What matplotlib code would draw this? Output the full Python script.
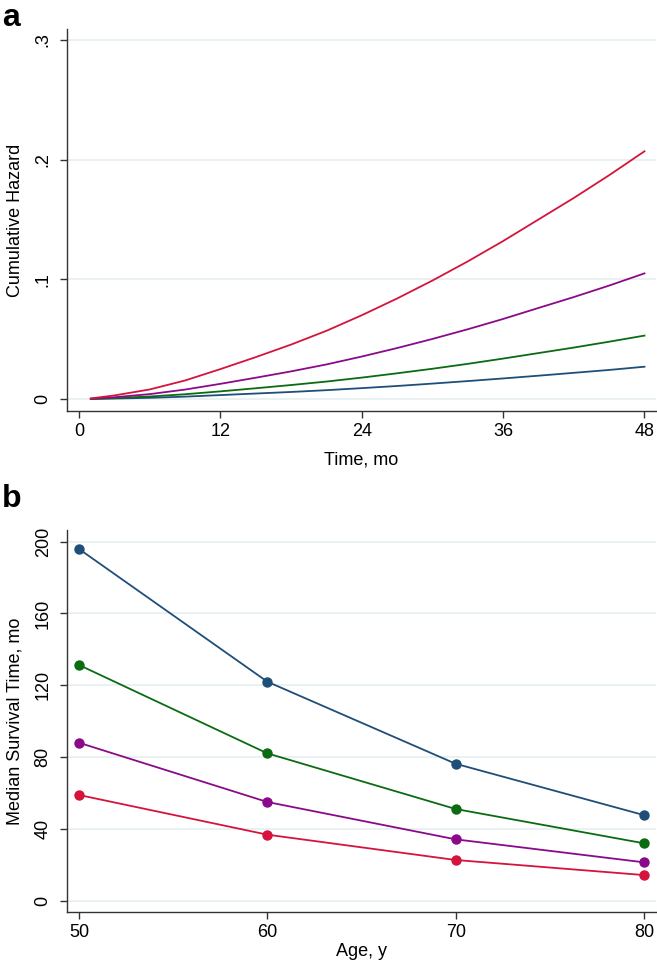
import matplotlib
matplotlib.use("Agg")
import matplotlib.pyplot as plt

plt.rcParams['font.family'] = ['Liberation Sans', 'DejaVu Sans']

# ---- Panel a data: cumulative hazard vs time (months) ----
time_mo = [1, 3, 6, 9, 12, 15, 18, 21, 24, 27, 30, 33, 36, 39, 42, 45, 48]
haz_red = [0.0005, 0.003, 0.008, 0.0155, 0.025, 0.035, 0.0455, 0.057, 0.070, 0.084,
           0.099, 0.115, 0.132, 0.150, 0.168, 0.187, 0.207]
haz_purple = [0.0003, 0.0015, 0.0041, 0.0079, 0.0127, 0.0178, 0.0231, 0.0289, 0.0355,
              0.0426, 0.0502, 0.0583, 0.0669, 0.0761, 0.0852, 0.0948, 0.105]
haz_green = [0.0001, 0.0008, 0.0021, 0.004, 0.0064, 0.009, 0.0117, 0.0146, 0.0179,
             0.0215, 0.0253, 0.0294, 0.0338, 0.0384, 0.043, 0.0479, 0.053]
haz_blue = [0.0001, 0.0004, 0.001, 0.002, 0.0033, 0.0046, 0.0059, 0.0074, 0.0091,
            0.0109, 0.0129, 0.015, 0.0172, 0.0195, 0.0219, 0.0243, 0.027]
a_xticks = [0, 12, 24, 36, 48]
a_yticks = [0, 0.1, 0.2, 0.3]
a_yticklabels = ['0', '.1', '.2', '.3']

# ---- Panel b data: median survival time vs age ----
age_y = [50, 60, 70, 80]
med_blue = [195.9, 122.0, 76.3, 47.7]
med_green = [131.3, 82.1, 51.1, 32.0]
med_purple = [88.0, 55.0, 34.2, 21.4]
med_red = [58.9, 36.8, 22.7, 14.3]
b_xticks = [50, 60, 70, 80]
b_yticks = [0, 40, 80, 120, 160, 200]

C_BLUE = '#1f4e79'
C_GREEN = '#0b6b12'
C_PURPLE = '#8a0a8a'
C_RED = '#d4143c'
GRID = '#e6eff1'
AXC = '#333333'

fig = plt.figure(figsize=(6.57, 9.67), dpi=100)

def style(ax):
    for s in ['top', 'right']:
        ax.spines[s].set_visible(False)
    for s in ['left', 'bottom']:
        ax.spines[s].set_color(AXC)
        ax.spines[s].set_linewidth(1.0)
    ax.tick_params(axis='both', direction='out', length=5, width=1.0, color=AXC,
                   labelsize=13, labelcolor='black')
    ax.tick_params(axis='x', pad=4)
    ax.tick_params(axis='y', labelrotation=90, pad=6)
    ax.yaxis.grid(True, color=GRID, linewidth=1.2)
    ax.xaxis.grid(False)
    ax.set_axisbelow(True)

lw = 1.3

# Panel a
axa = fig.add_axes([67/657, 1-411/967, (656-67)/657, (411-29)/967])
axa.plot(time_mo, haz_blue, color=C_BLUE, lw=lw)
axa.plot(time_mo, haz_green, color=C_GREEN, lw=lw)
axa.plot(time_mo, haz_purple, color=C_PURPLE, lw=lw)
axa.plot(time_mo, haz_red, color=C_RED, lw=lw)
axa.set_xlim(-1.02, 48.98)
axa.set_ylim(-0.010, 0.3092)
axa.set_xticks(a_xticks)
axa.set_yticks(a_yticks)
axa.set_yticklabels(a_yticklabels)
style(axa)
for lab in axa.get_yticklabels():
    lab.set_va('center')
axa.set_xlabel('Time, mo', fontsize=13, labelpad=8)
axa.set_ylabel('Cumulative Hazard', fontsize=13, labelpad=8)
fig.text(2/657, 1-26/967, 'a', fontsize=23, fontweight='bold', ha='left', va='baseline')

# Panel b
axb = fig.add_axes([67/657, 1-911.7/967, (656-67)/657, (911.7-530)/967])
ms = 7.5
for vals, c in [(med_blue, C_BLUE), (med_green, C_GREEN), (med_purple, C_PURPLE), (med_red, C_RED)]:
    axb.plot(age_y, vals, color=c, lw=lw, marker='o', markersize=ms, markeredgewidth=0)
axb.set_xlim(49.36, 80.64)
axb.set_ylim(-6.1, 206.5)
axb.set_xticks(b_xticks)
axb.set_yticks(b_yticks)
style(axb)
for lab in axb.get_yticklabels():
    lab.set_va('center')
axb.set_xlabel('Age, y', fontsize=13, labelpad=1)
axb.set_ylabel('Median Survival Time, mo', fontsize=13, labelpad=8)
fig.text(2/657, 1-507/967, 'b', fontsize=23, fontweight='bold', ha='left', va='baseline')

fig.savefig('out.png', dpi=100)
